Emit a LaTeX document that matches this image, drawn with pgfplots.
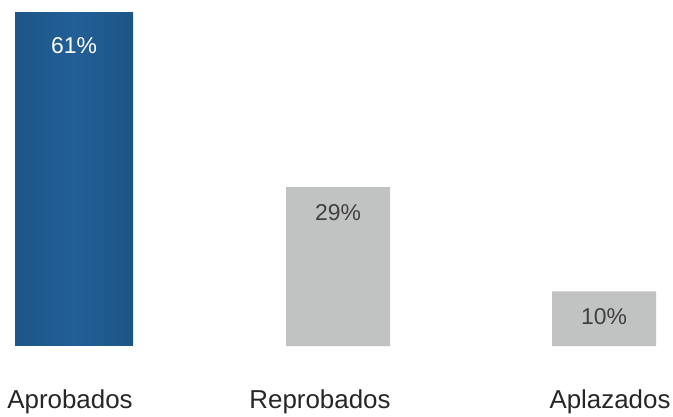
\documentclass[border=0pt]{standalone}
\usepackage{pgfplots}
\pgfplotsset{compat=1.18}
\usepackage{fontspec}
\setmainfont{Liberation Sans}
\definecolor{bluedark}{HTML}{1D5586}
\definecolor{bluemid}{HTML}{225F97}
\definecolor{graybar}{HTML}{C1C3C2}
\begin{document}
\begin{tikzpicture}
\path[use as bounding box] (0,0) rectangle (673bp,417bp);
\begin{axis}[
  at={(0,71bp)}, anchor=south west,
  scale only axis, width=673bp, height=346bp,
  xmin=0, xmax=673, ymin=0, ymax=63.2,
  axis line style={draw=none},
  tick style={draw=none},
  ytick=\empty,
  xtick={70,320,610},
  xticklabels={Aprobados,Reprobados,Aplazados},
  xticklabel style={font=\fontsize{26}{30}\selectfont, text=black!85, anchor=north, yshift=-40bp},
  nodes near coords,
  nodes near coords style={anchor=north, font=\fontsize{23}{26}\selectfont, yshift=-14bp},
  point meta=explicit symbolic,
  clip=false,
]
\addplot[ybar, bar width=118, draw=none, left color=bluedark, right color=bluedark, middle color=bluemid,
  nodes near coords style={text=white, yshift=-8bp}]
  coordinates {(74,61) [61\%]};
\addplot[ybar, bar width=104, draw=none, fill=graybar, nodes near coords style={text=black!75}]
  coordinates {(338,29) [29\%] (604,10) [10\%]};
\end{axis}
\end{tikzpicture}
\end{document}
